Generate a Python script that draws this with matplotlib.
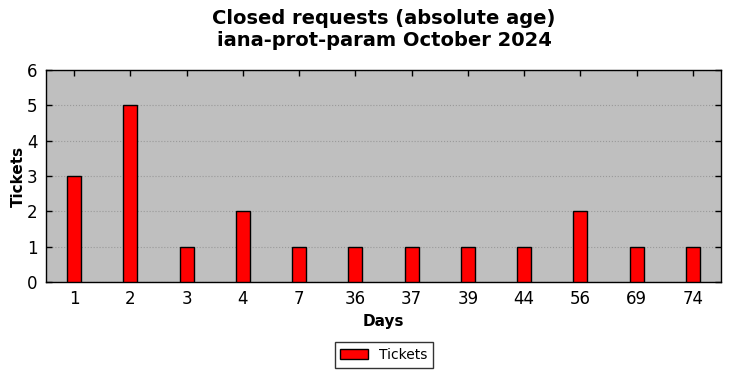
import matplotlib
matplotlib.use("Agg")
import matplotlib.pyplot as plt

days = ["1", "2", "3", "4", "7", "36", "37", "39", "44", "56", "69", "74"]
tickets = [3, 5, 1, 2, 1, 1, 1, 1, 1, 2, 1, 1]

plt.rcParams['font.family'] = ['DejaVu Sans']
fig = plt.figure(figsize=(7.31, 3.78), dpi=100, facecolor='white')
ax = fig.add_axes([46/731, 1 - 282/378, (721-46)/731, (282-70)/378])
ax.set_facecolor('#bfbfbf')
x = list(range(len(days)))
ax.bar(x, tickets, width=0.25, color='red', edgecolor='black', linewidth=1, label='Tickets', zorder=3)
ax.set_xlim(-0.5, len(days) - 0.5)
ax.set_ylim(0, 6)
ax.set_xticks(x)
ax.set_xticklabels(days, fontsize=12)
ax.set_yticks(range(7))
ax.tick_params(axis='y', labelsize=12)
ax.tick_params(direction='in', top=True, right=True, length=4, width=1, pad=6)
ax.yaxis.grid(True, linestyle=':', color='#999999', linewidth=0.8, zorder=0)
ax.set_axisbelow(True)
for s in ax.spines.values():
    s.set_linewidth(1)
ax.set_xlabel('Days', fontsize=11, fontweight='bold')
ax.set_ylabel('Tickets', fontsize=11, fontweight='bold', labelpad=1)
fig.suptitle('Closed requests (absolute age)\niana-prot-param October 2024', fontsize=14, fontweight='bold', x=384/731, y=0.975)
leg = fig.legend(loc='center', bbox_to_anchor=(384/731, 1 - 355/378), fontsize=10, frameon=True, fancybox=False, edgecolor='black', handlelength=2)
leg.get_frame().set_linewidth(1)
fig.savefig('out.png', dpi=100, facecolor='white')
